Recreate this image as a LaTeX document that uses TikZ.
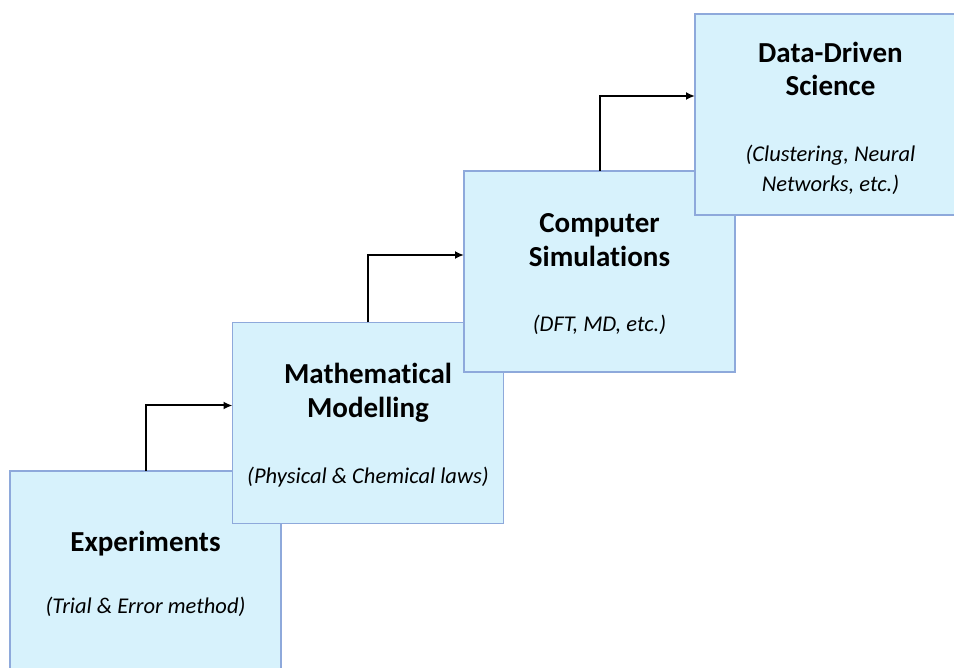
\documentclass[tikz,border=0pt]{standalone}
\usepackage{fontspec}
\setmainfont{Carlito}[Ligatures=NoCommon]
\usetikzlibrary{arrows.meta}
\definecolor{boxfill}{HTML}{D7F2FC}
\definecolor{boxline}{HTML}{8EA9DB}
\begin{document}
\begin{tikzpicture}[x=1pt,y=-1pt,
  box/.style={draw=boxline, fill=boxfill, line width=1.6pt, minimum width=271pt, minimum height=201pt, inner sep=0pt, outer sep=0pt},
  ttl/.style={font=\fontsize{29}{34}\selectfont\bfseries, anchor=base, inner sep=0pt},
  sub/.style={font=\fontsize{22.5}{30}\selectfont\itshape, anchor=base, inner sep=0pt},
  arr/.style={-{Latex[length=9pt,width=8pt]}, line width=2pt}]
\useasboundingbox (0,0) rectangle (954,668);
\clip (0,0) rectangle (954,668);
\fill[white] (0,0) rectangle (954,668);
% boxes
\node[box] (b1) at (145.5,571.5) {};
\node[box] (b2) at (368,423) {};
\node[box] (b3) at (599.5,271.5) {};
\node[box] (b4) at (830.5,114.5) {};
% texts
\node[ttl] (t1) at (145.5,551) {Experiments};
\node[sub] (s1) at (145.5,613) {(Trial \& Error method)};
\node[ttl] (t2a) at (368,384) {Mathematical};
\node[ttl] (t2b) at (368,418) {Modelling};
\node[sub] (s2) at (368,483) {(Physical \& Chemical laws)};
\node[ttl] (t3a) at (599.5,233) {Computer};
\node[ttl] (t3b) at (599.5,267) {Simulations};
\node[sub] (s3) at (599.5,332) {(DFT, MD, etc.)};
\node[ttl] (t4a) at (830.5,63) {Data-Driven};
\node[ttl] (t4b) at (830.5,96) {Science};
\node[sub] (s4a) at (830.5,162) {(Clustering, Neural};
\node[sub] (s4b) at (830.5,192) {Networks, etc.)};
% arrows
\draw[arr] (b1.north) |- ([yshift=-83pt]b2.north west);
\draw[arr] (b2.north) |- ([yshift=-84pt]b3.north west);
\draw[arr] (b3.north) |- ([yshift=-82pt]b4.north west);
\end{tikzpicture}
\end{document}
